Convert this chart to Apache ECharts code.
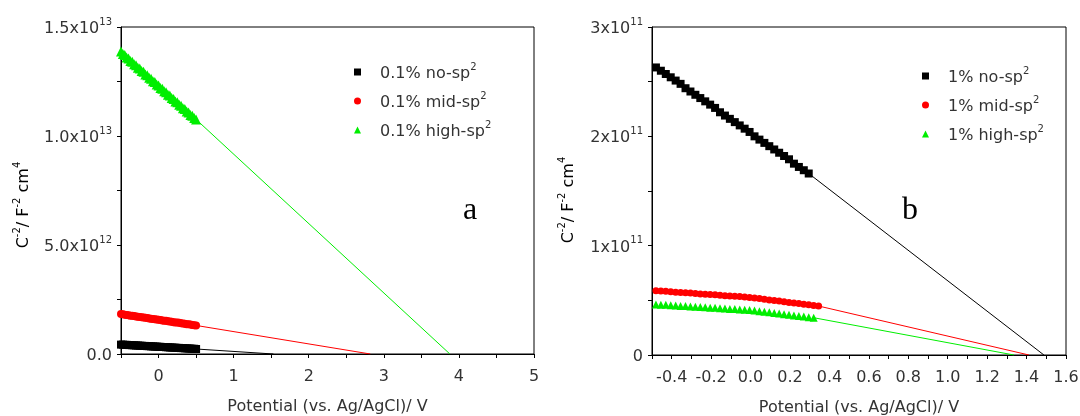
<!DOCTYPE html>
<html><head><meta charset="utf-8">
<script src="https://cdn.jsdelivr.net/npm/echarts@6/dist/echarts.min.js"></script>
<style>html,body{margin:0;padding:0;background:#fff}#c{width:1080px;height:416px}</style>
</head><body><div id="c"></div>
<script>
// ---------- Panel a (0.1 %) ----------
// potential (V)
const potA = [-0.500,-0.475,-0.450,-0.425,-0.400,-0.375,-0.350,-0.325,-0.300,-0.275,-0.250,-0.225,-0.200,-0.175,-0.150,-0.125,-0.100,-0.075,-0.050,-0.025,0.000,0.025,0.050,0.075,0.100,0.125,0.150,0.175,0.200,0.225,0.250,0.275,0.300,0.325,0.350,0.375,0.400,0.425,0.450,0.475,0.500];
// C^-2 in units of 1e12 F^-2 cm^4
const aNo   = [0.43,0.43,0.42,0.42,0.41,0.41,0.40,0.40,0.39,0.39,0.38,0.38,0.37,0.37,0.36,0.36,0.35,0.35,0.34,0.34,0.33,0.33,0.32,0.32,0.31,0.31,0.30,0.30,0.29,0.29,0.28,0.28,0.27,0.27,0.26,0.26,0.25,0.25,0.24,0.24,0.23];
const aMid  = [1.83,1.82,1.80,1.79,1.78,1.76,1.75,1.74,1.72,1.71,1.70,1.69,1.67,1.66,1.65,1.63,1.62,1.61,1.59,1.58,1.57,1.56,1.54,1.53,1.52,1.50,1.49,1.48,1.46,1.45,1.44,1.43,1.41,1.40,1.39,1.37,1.36,1.35,1.33,1.32,1.31];
const aHigh = [13.88,13.76,13.72,13.60,13.56,13.44,13.41,13.29,13.25,13.13,13.10,12.98,12.95,12.82,12.79,12.67,12.63,12.51,12.48,12.36,12.32,12.20,12.17,12.05,12.01,11.89,11.86,11.74,11.70,11.58,11.55,11.43,11.39,11.27,11.24,11.12,11.08,10.96,10.93,10.82,10.76];
// flat-band (x-intercept) potentials of the extrapolated lines (V)
const aIntercepts = [1.53, 2.82, 3.88];
const aNames = ['0.1% no-sp2','0.1% mid-sp2','0.1% high-sp2'];
const aUnit = 1e12;

// ---------- Panel b (1 %) ----------
const potB = [-0.480,-0.455,-0.430,-0.405,-0.380,-0.355,-0.330,-0.305,-0.280,-0.255,-0.230,-0.205,-0.180,-0.155,-0.130,-0.105,-0.080,-0.055,-0.030,-0.005,0.020,0.045,0.070,0.095,0.120,0.145,0.170,0.195,0.220,0.245,0.270,0.295,0.320,0.345];
// C^-2 in units of 1e11 F^-2 cm^4
const bNo   = [2.63,2.60,2.57,2.54,2.51,2.48,2.44,2.41,2.38,2.35,2.32,2.29,2.26,2.22,2.19,2.16,2.13,2.10,2.07,2.04,2.00,1.97,1.94,1.91,1.88,1.85,1.82,1.79,1.75,1.72,1.69,1.66];
const bMid  = [0.588,0.585,0.582,0.578,0.575,0.572,0.569,0.566,0.562,0.559,0.556,0.553,0.550,0.546,0.543,0.540,0.537,0.534,0.530,0.527,0.521,0.516,0.510,0.504,0.499,0.493,0.487,0.481,0.476,0.470,0.464,0.459,0.453,0.448];
const bHigh = [0.463,0.459,0.459,0.454,0.453,0.449,0.448,0.443,0.442,0.438,0.437,0.432,0.432,0.427,0.426,0.421,0.421,0.416,0.415,0.412,0.406,0.401,0.395,0.390,0.384,0.379,0.373,0.368,0.362,0.357,0.351,0.346,0.341];
const bIntercepts = [1.488, 1.412, 1.336];
const bNames = ['1% no-sp2','1% mid-sp2','1% high-sp2'];
const bUnit = 1e11;

// tick labels [mantissa, exponent]
const yTicksA = [0, 5e12, 1e13, 1.5e13];
const yLabelsA = [['0.0',''],['5.0x10','12'],['1.0x10','13'],['1.5x10','13']];
const yTicksB = [0, 1e11, 2e11, 3e11];
const yLabelsB = [['0',''],['1x10','11'],['2x10','11'],['3x10','11']];
const xTitle = 'Potential (vs. Ag/AgCl)/ V';

const colors = ['#000000','#ff0000','#00ee00'];
const symbols = ['rect','circle','triangle'];
const FONT = 'DejaVu Sans';
const TXT = '#333';

const rich = {
  b: {fontFamily: FONT, fontSize: 16, color: TXT, lineHeight: 20, verticalAlign: 'bottom'},
  s: {fontFamily: FONT, fontSize: 10, color: TXT, lineHeight: 12, verticalAlign: 'top'}
};

function yFmt(ticks, labels, span) {
  return function (v) {
    for (let i = 0; i < ticks.length; i++) {
      if (Math.abs(v - ticks[i]) < span * 1e-6) {
        return labels[i][1] ? '{b|' + labels[i][0] + '}{s|' + labels[i][1] + '}' : '{b|' + labels[i][0] + '}';
      }
    }
    return '';
  };
}

function baseX(grid, min, max, interval, fmt) {
  return {
    type: 'value', gridIndex: grid, min: min, max: max, interval: interval,
    axisLine: {show: true, onZero: false, lineStyle: {color: '#000', width: 1}},
    axisTick: {show: true, length: 4, lineStyle: {color: '#000'}},
    axisLabel: {formatter: fmt, margin: 15, color: TXT, fontFamily: FONT, fontSize: 16},
    splitLine: {show: false},
    name: xTitle, nameLocation: 'middle', nameGap: 45,
    nameTextStyle: {fontFamily: FONT, fontSize: 16, color: TXT}
  };
}
function baseY(grid, max, interval, fmt) {
  return {
    type: 'value', gridIndex: grid, min: 0, max: max, interval: interval,
    axisLine: {show: true, onZero: false, lineStyle: {color: '#000', width: 1}},
    axisTick: {show: true, length: 4, lineStyle: {color: '#000'}},
    axisLabel: {formatter: fmt, margin: 9, rich: rich},
    splitLine: {show: false}
  };
}

function buildSeries(pot, sets, intercepts, names, unit, grid, sizes) {
  const out = [];
  sets.forEach(function (vals, k) {
    const last = vals.length - 1;
    out.push({
      type: 'line', xAxisIndex: grid, yAxisIndex: grid, silent: true, showSymbol: false,
      symbol: 'none', lineStyle: {color: colors[k], width: 1}, z: 2,
      data: [[pot[last], vals[last] * unit], [intercepts[k], 0]]
    });
  });
  sets.forEach(function (vals, k) {
    out.push({
      name: names[k], type: 'scatter', xAxisIndex: grid, yAxisIndex: grid,
      symbol: symbols[k], symbolSize: sizes[k], itemStyle: {color: colors[k], opacity: 1}, z: 3,
      data: vals.map(function (v, i) { return [pot[i], v * unit]; })
    });
  });
  return out;
}

function legendFor(names, left, top) {
  return {
    orient: 'vertical', left: left, top: top, itemWidth: 7, itemHeight: 7, itemGap: 9,
    data: names.map(function (n, k) { return {name: n, icon: symbols[k], itemStyle: {color: colors[k], opacity: 1}}; }),
    formatter: function (n) { return '{b|' + n.slice(0, -1) + '}{s|2}'; },
    textStyle: {rich: rich, padding: [0, 0, 0, 14]},
    selectedMode: false
  };
}

function yTitle(x, y) {
  return {
    type: 'text', x: x, y: y, rotation: Math.PI / 2,
    style: {
      text: '{b|C}{s|-2}{b|/ F}{s|-2}{b| cm}{s|4}',
      rich: rich, align: 'center', verticalAlign: 'middle'
    }
  };
}

const chart = echarts.init(document.getElementById('c'), null, {renderer: 'canvas'});
chart.setOption({
  animation: false,
  backgroundColor: '#fff',
  grid: [
    {left: 121, top: 27, width: 413, height: 327, show: true, borderColor: '#000', borderWidth: 1, outerBoundsMode: 'none', containLabel: false},
    {left: 652, top: 27, width: 414, height: 328, show: true, borderColor: '#000', borderWidth: 1, outerBoundsMode: 'none', containLabel: false}
  ],
  xAxis: [
    baseX(0, -0.5, 5, 0.5, function (v) { return Math.abs(v - Math.round(v)) < 1e-6 ? String(Math.round(v)) : ''; }),
    baseX(1, -0.5, 1.6, 0.1, function (v) { const t = Math.round(v * 10); return t % 2 === 0 ? (t / 10).toFixed(1) : ''; })
  ],
  yAxis: [
    baseY(0, 1.5e13, 2.5e12, yFmt(yTicksA, yLabelsA, 1.5e13)),
    baseY(1, 3e11, 0.5e11, yFmt(yTicksB, yLabelsB, 3e11))
  ],
  legend: [legendFor(aNames, 349, 57), legendFor(bNames, 917, 61)],
  series: buildSeries(potA, [aNo, aMid, aHigh], aIntercepts, aNames, aUnit, 0, [8, 8, 10])
    .concat(buildSeries(potB, [bNo, bMid, bHigh], bIntercepts, bNames, bUnit, 1, [8, 7, 8])),
  graphic: [
    yTitle(22, 205), yTitle(567, 200),
    {type: 'text', x: 470, y: 211, style: {text: 'a', font: '32px "Liberation Serif"', fill: '#000', align: 'center', verticalAlign: 'middle'}},
    {type: 'text', x: 910, y: 211, style: {text: 'b', font: '32px "Liberation Serif"', fill: '#000', align: 'center', verticalAlign: 'middle'}}
  ]
});
</script>
</body></html>
